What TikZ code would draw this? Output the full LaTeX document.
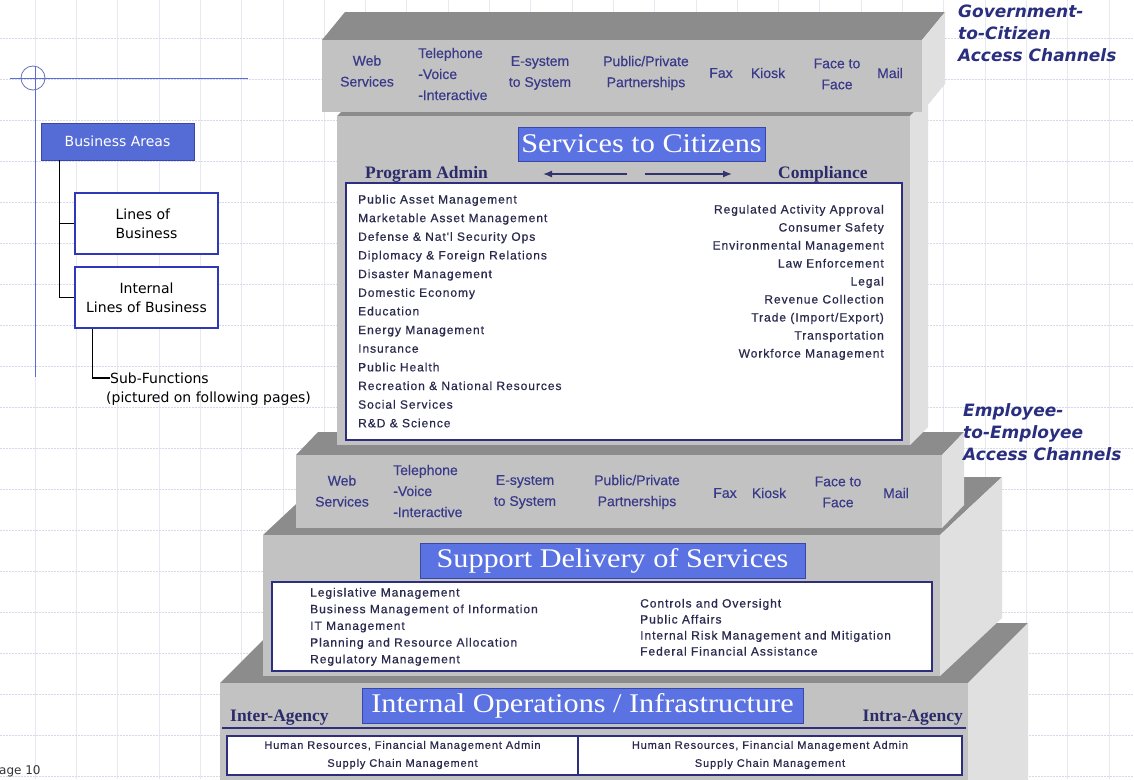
\documentclass[tikz,border=0pt]{standalone}
\usepackage{fontspec}
\setmainfont{Liberation Sans}
\newfontfamily\serifT{Liberation Serif}
\newfontfamily\titleT[FakeStretch=1.12]{Liberation Serif}
\newfontfamily\listT[LetterSpace=8,FakeBold=0.6]{Liberation Sans}
\newfontfamily\chanT[FakeBold=0.4]{Liberation Sans}
\newfontfamily\legT{DejaVu Sans}
\usetikzlibrary{arrows.meta}
\definecolor{chanc}{HTML}{3A3A8A}
\definecolor{listc}{HTML}{2A2A4E}
\definecolor{headc}{HTML}{2B2B6B}
\definecolor{italc}{HTML}{2A2E7E}
\definecolor{titleblue}{HTML}{5A72E2}
\definecolor{titleedge}{HTML}{3A46A8}
\definecolor{boxline}{HTML}{2E2E7E}
\definecolor{gridc}{HTML}{E6E8F2}
\definecolor{gridh}{HTML}{D6D9E8}
\definecolor{legblue}{HTML}{5C6CD6}
\definecolor{frontgray}{HTML}{C2C2C2}
\definecolor{topgray}{HTML}{8C8C8C}
\definecolor{sidegray}{HTML}{E0E0E0}
\newcommand\slab[6]{%
  \fill[topface] (#1,#2) -- (#1+#5,#2-#6) -- (#3+#5,#2-#6) -- (#3,#2) -- cycle;
  \fill[sideface] (#3,#2) -- (#3+#5,#2-#6) -- (#3+#5,#4-#6) -- (#3,#4) -- cycle;
  \fill[frontface] (#1,#2) rectangle (#3,#4);
}
\begin{document}
\begin{tikzpicture}[x=1pt,y=-1pt,
  topface/.style={fill=topgray},
  sideface/.style={fill=sidegray},
  frontface/.style={fill=frontgray},
  gridv/.style={draw=gridc,line width=0.6pt},
  gridh/.style={draw=gridh,line width=0.6pt,dash pattern=on 1.5pt off 1.5pt},
  chan/.style={font=\chanT\fontsize{14}{21}\selectfont,text=chanc,align=center,inner sep=0pt},
  listtext/.style={font=\listT\fontsize{12}{14}\selectfont,text=listc,inner sep=0pt,anchor=base west},
  listtextr/.style={listtext,anchor=base east},
  hrtext/.style={font=\listT\fontsize{11}{18}\selectfont,text=listc,inner sep=0pt,align=center},
  titlebox/.style={fill=titleblue,draw=titleedge,line width=0.8pt,text=white,inner sep=0pt,
     font=\titleT\fontsize{27}{27}\selectfont},
  headtext/.style={font=\serifT\bfseries\fontsize{17.5}{18}\selectfont,text=headc,inner sep=0pt},
  whitebox/.style={fill=white,draw=boxline,line width=1.4pt},
  legtext/.style={font=\legT\fontsize{14}{19}\selectfont,inner sep=0pt},
  legbox/.style={draw=titleedge!80!blue,line width=1.2pt,fill=white,legtext},
  conn/.style={draw=black,line width=1.2pt},
  arr/.style={draw=headc!90!gray,line width=1.3pt,-{Latex[length=9pt,width=7pt]}},
  ital/.style={font=\legT\bfseries\itshape\fontsize{17}{22}\selectfont,text=italc,align=left,inner sep=0pt,anchor=north west}
]
\useasboundingbox (0,0) rectangle (1134,779);
\clip (0,0) rectangle (1134,779);
\fill[white] (0,0) rectangle (1134,779);
% grid
\foreach \i in {0,...,26} \draw[gridv] ({35+41.3*\i},0) -- ({35+41.3*\i},779);
\foreach \j in {-2,...,16} \draw[gridh] (0,{120+41*\j}) -- (1134,{120+41*\j});

% legend
\draw[legblue,line width=1pt] (10,78) -- (248,78);
\draw[legblue,line width=1pt] (35,66) -- (35,377);
\draw[legblue!70!gray,line width=0.8pt] (33,78) circle (12);
\node[fill=titleblue!95!black,draw=titleedge,line width=0.8pt,minimum width=153pt,minimum height=37pt,
  legtext,text=white] (ba) at (117.5,141.5) {Business Areas};
\node[legbox,minimum width=143pt,minimum height=61pt,align=left] (lob) at (146.5,223.5) {Lines of\\Business};
\node[legbox,minimum width=143pt,minimum height=61pt,align=center] (ilob) at (146.5,297.5) {Internal\\Lines of Business};
\node[legtext,anchor=west] (sf1) at (110,378) {Sub-Functions};
\node[legtext,anchor=west] (sf2) at (106,399) {(pictured on following pages)};
\draw[conn] ([xshift=19pt]ba.south west) |- (lob.west);
\draw[conn] ([xshift=19pt]ba.south west) |- (ilob.west);
\draw[conn] ([xshift=18pt]ilob.south west) |- (sf1.west);

% slabs, bottom to top
\slab{220}{683}{968}{840}{60}{60}
\slab{263}{535}{940}{676}{62}{58}
\slab{296}{455}{942}{528}{22}{23}
\slab{337}{116}{910}{445}{18}{18}
\slab{322}{40}{922}{112}{23}{28}

% top channels
\node[chan] (c1) at (367,71) {Web\\Services};
\node[chan,align=left,anchor=west] (c2) at (418,74) {Telephone\\-Voice\\-Interactive};
\node[chan] (c3) at (540,73) {E-system\\to System};
\node[chan] (c4) at (646,73) {Public/Private\\Partnerships};
\node[chan] (c5) at (721,73) {Fax};
\node[chan] (c6) at (768,73) {Kiosk};
\node[chan] (c7) at (837,74) {Face to\\Face};
\node[chan] (c8) at (890,73) {Mail};

% services to citizens
\node[titlebox,minimum width=247pt,minimum height=34pt] (stc) at (641.5,144) {Services to Citizens};
\node[headtext,anchor=base west] (pa) at (365,178) {Program Admin};
\node[headtext,anchor=base west] (cp) at (778,178) {Compliance};
\coordinate (a1s) at (627,174); \coordinate (a1e) at (543,174);
\coordinate (a2s) at (645,174); \coordinate (a2e) at (732,174);
\draw[arr] (a1s) -- (a1e);
\draw[arr] (a2s) -- (a2e);
\draw[whitebox] (346,183) rectangle (902,440);
\foreach \t [count=\i from 0] in {Public Asset Management,Marketable Asset Management,
  Defense \& Nat'l Security Ops,Diplomacy \& Foreign Relations,Disaster Management,
  Domestic Economy,Education,Energy Management,Insurance,Public Health,
  Recreation \& National Resources,Social Services,R\&D \& Science}
  \node[listtext] (pl\i) at (358,{203.5+18.65*\i}) {\t};
\foreach \t [count=\i from 0] in {Regulated Activity Approval,Consumer Safety,
  Environmental Management,Law Enforcement,Legal,Revenue Collection,
  Trade (Import/Export),Transportation,Workforce Management}
  \node[listtextr] (cl\i) at (884,{213.5+18*\i}) {\t};

% employee channels
\node[chan] (e1) at (342,491) {Web\\Services};
\node[chan,align=left,anchor=west] (e2) at (393,491) {Telephone\\-Voice\\-Interactive};
\node[chan] (e3) at (525,492) {E-system\\to System};
\node[chan] (e4) at (637,492) {Public/Private\\Partnerships};
\node[chan] (e5) at (725,493) {Fax};
\node[chan] (e6) at (769,493) {Kiosk};
\node[chan] (e7) at (838,492) {Face to\\Face};
\node[chan] (e8) at (896,493) {Mail};

% support delivery
\node[titlebox,minimum width=385pt,minimum height=35pt] (sds) at (612.5,560.5) {Support Delivery of Services};
\draw[whitebox] (272,582) rectangle (932,671);
\foreach \t [count=\i from 0] in {Legislative Management,Business Management of Information,
  IT Management,Planning and Resource Allocation,Regulatory Management}
  \node[listtext] (sl\i) at (310,{596.5+16.7*\i}) {\t};
\foreach \t [count=\i from 0] in {Controls and Oversight,Public Affairs,
  Internal Risk Management and Mitigation,Federal Financial Assistance}
  \node[listtext] (sr\i) at (640,{607.5+16*\i}) {\t};

% internal operations
\node[titlebox,minimum width=441pt,minimum height=35pt] (ioi) at (582.5,705.5) {Internal Operations / Infrastructure};
\node[headtext,anchor=base west] (ia) at (230,721) {Inter-Agency};
\node[headtext,anchor=base east] (ra) at (963,721) {Intra-Agency};
\coordinate (ll) at (222,728); \coordinate (lr) at (966,728);
\draw[boxline,line width=1.2pt] (ll) -- (lr);
\draw[whitebox] (227,736) rectangle (962,775);
\draw[boxline,line width=1.2pt] (578,736) -- (578,775);
\node[hrtext] (hr1) at (402.5,755) {Human Resources, Financial Management Admin\\Supply Chain Management};
\node[hrtext] (hr2) at (770,755) {Human Resources, Financial Management Admin\\Supply Chain Management};

% right labels
\node[ital] (g2c) at (958,5) {Government-\\to-Citizen\\Access Channels};
\node[ital] (e2e) at (963,403) {Employee-\\to-Employee\\Access Channels};

% page number
\node[font=\legT\fontsize{12}{14}\selectfont,text=black!80,inner sep=0pt,anchor=base west] (pg) at (-1,774) {age 10};
\end{tikzpicture}
\end{document}
